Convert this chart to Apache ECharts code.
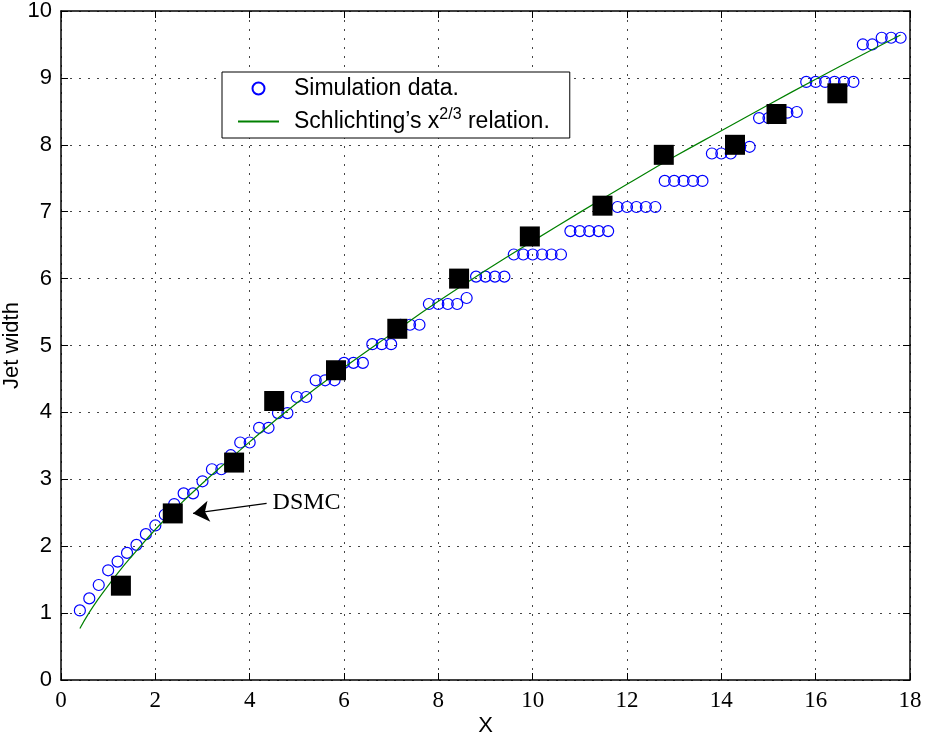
<!DOCTYPE html>
<html>
<head>
<meta charset="utf-8">
<script src="https://cdn.jsdelivr.net/npm/echarts@6/dist/echarts.min.js"></script>
<style>
  html, body { margin: 0; padding: 0; background: #fff; }
  #chart { width: 936px; height: 741px; }
</style>
</head>
<body>
<div id="chart"></div>
<script>
// Axis ticks
const xTicks = [0, 2, 4, 6, 8, 10, 12, 14, 16, 18];
const yTicks = [0, 1, 2, 3, 4, 5, 6, 7, 8, 9, 10];

// Simulation data (jet width vs. X)
const simX = [0.4, 0.6, 0.8, 1.0, 1.2, 1.4, 1.6, 1.8, 2.0, 2.2, 2.4, 2.6, 2.8, 3.0, 3.2, 3.4, 3.6, 3.8, 4.0, 4.2,
              4.4, 4.6, 4.8, 5.0, 5.2, 5.4, 5.6, 5.8, 6.0, 6.2, 6.4, 6.6, 6.8, 7.0, 7.2, 7.4, 7.6, 7.8, 8.0, 8.2,
              8.4, 8.6, 8.8, 9.0, 9.2, 9.4, 9.6, 9.8, 10.0, 10.2, 10.4, 10.6, 10.8, 11.0, 11.2, 11.4, 11.6, 11.8, 12.0, 12.2,
              12.4, 12.6, 12.8, 13.0, 13.2, 13.4, 13.6, 13.8, 14.0, 14.2, 14.4, 14.6, 14.8, 15.0, 15.2, 15.4, 15.6, 15.8, 16.0, 16.2,
              16.4, 16.6, 16.8, 17.0, 17.2, 17.4, 17.6, 17.8];
const simY = [1.04, 1.22, 1.42, 1.64, 1.77, 1.90, 2.02, 2.18, 2.31, 2.47, 2.63, 2.79, 2.79, 2.97, 3.15, 3.15, 3.36, 3.55, 3.55, 3.77,
              3.77, 3.99, 3.99, 4.23, 4.23, 4.48, 4.48, 4.48, 4.74, 4.74, 4.74, 5.02, 5.02, 5.02, 5.31, 5.31, 5.31, 5.62, 5.62, 5.62,
              5.62, 5.71, 6.03, 6.03, 6.03, 6.03, 6.36, 6.36, 6.36, 6.36, 6.36, 6.36, 6.71, 6.71, 6.71, 6.71, 6.71, 7.07, 7.07, 7.07,
              7.07, 7.07, 7.46, 7.46, 7.46, 7.46, 7.46, 7.87, 7.87, 7.87, 7.97, 7.97, 8.40, 8.40, 8.48, 8.48, 8.49, 8.94, 8.94, 8.94,
              8.94, 8.94, 8.94, 9.50, 9.50, 9.60, 9.60, 9.60];

// DSMC results
const dsmcX = [1.27, 2.37, 3.67, 4.52, 5.83, 7.13, 8.44, 9.94, 11.48, 12.78, 14.29, 15.17, 16.46];
const dsmcY = [1.41, 2.49, 3.25, 4.17, 4.63, 5.25, 6.00, 6.63, 7.09, 7.85, 8.00, 8.46, 8.77];

// Schlichting's x^(2/3) relation, sampled along the curve
const fitX = [0.4, 0.6, 0.8, 1.0, 1.25, 1.5, 2, 2.5, 3, 4, 5, 6, 7, 8, 9, 10, 11, 12, 13, 14, 15, 16, 17, 17.8];
const fitY = [0.77, 1.01, 1.22, 1.41, 1.64, 1.85, 2.25, 2.61, 2.94, 3.56, 4.14, 4.67, 5.17, 5.66, 6.12, 6.56, 6.99, 7.41, 7.82, 8.21, 8.60, 8.98, 9.35, 9.64];

// "DSMC" pointer arrow (tail, head) in data units
const arrowTail = [4.36, 2.64];
const arrowHead = [2.80, 2.49];

const simName = 'Simulation data.';
const fitName = 'Schlichting’s x2/3 relation.';

const zip = (xs, ys) => xs.map((x, i) => [x, ys[i]]);

const SANS = 'Liberation Sans, Helvetica, Arial, sans-serif';
const SERIF = 'Liberation Serif, Times New Roman, serif';

const dotted = { type: [2, 7], color: '#444', width: 1 };
const frameLine = { show: true, onZero: false, lineStyle: { color: '#000', width: 1.5 } };
const inTick = { show: true, inside: true, length: 7, lineStyle: { color: '#000', width: 1 } };

const chart = echarts.init(document.getElementById('chart'), null, { renderer: 'canvas' });

chart.setOption({
  animation: false,
  backgroundColor: '#fff',
  grid: { left: 61, right: 26, top: 11, bottom: 61, containLabel: false, outerBoundsMode: 'none' },
  legend: {
    left: 222,
    top: 72,
    orient: 'vertical',
    data: [
      { name: simName },
      { name: fitName, itemStyle: { opacity: 0 } }
    ],
    backgroundColor: '#fff',
    borderColor: '#000',
    borderWidth: 1,
    borderRadius: 0,
    padding: [5, 20, 5, 15],
    itemWidth: 41,
    itemHeight: 12,
    itemGap: 7,
    formatter: name => name === fitName ? 'Schlichting’s x{sup|2/3} relation.' : name,
    textStyle: {
      fontFamily: SANS,
      fontSize: 23,
      color: '#000',
      padding: [0, 0, 0, 10],
      rich: {
        sup: { fontFamily: SANS, fontSize: 16, color: '#000', padding: [0, 0, 13, 0] }
      }
    }
  },
  xAxis: [
    {
      type: 'value',
      min: xTicks[0],
      max: xTicks[xTicks.length - 1],
      interval: xTicks[1] - xTicks[0],
      position: 'bottom',
      name: 'X',
      nameLocation: 'middle',
      nameGap: 35,
      nameMoveOverlap: false,
      nameTextStyle: { fontFamily: SANS, fontSize: 22, color: '#000' },
      axisLine: frameLine,
      axisTick: inTick,
      axisLabel: { fontFamily: SERIF, fontSize: 23, color: '#000', margin: 9 },
      splitLine: { show: true, lineStyle: dotted }
    },
    {
      type: 'value',
      min: xTicks[0],
      max: xTicks[xTicks.length - 1],
      interval: xTicks[1] - xTicks[0],
      position: 'top',
      axisLine: frameLine,
      axisTick: inTick,
      axisLabel: { show: false },
      splitLine: { show: false }
    }
  ],
  yAxis: [
    {
      type: 'value',
      min: yTicks[0],
      max: yTicks[yTicks.length - 1],
      interval: yTicks[1] - yTicks[0],
      position: 'left',
      name: 'Jet width',
      nameLocation: 'middle',
      nameGap: 38,
      nameMoveOverlap: false,
      nameTextStyle: { fontFamily: SANS, fontSize: 22, color: '#000' },
      axisLine: frameLine,
      axisTick: inTick,
      axisLabel: { fontFamily: SANS, fontSize: 22, color: '#000', margin: 9 },
      splitLine: { show: true, lineStyle: dotted }
    },
    {
      type: 'value',
      min: yTicks[0],
      max: yTicks[yTicks.length - 1],
      interval: yTicks[1] - yTicks[0],
      position: 'right',
      axisLine: frameLine,
      axisTick: inTick,
      axisLabel: { show: false },
      splitLine: { show: false }
    }
  ],
  series: [
    {
      name: simName,
      type: 'scatter',
      data: zip(simX, simY),
      symbol: 'circle',
      symbolSize: 11,
      itemStyle: { color: 'rgba(0,0,0,0)', borderColor: '#0000ff', borderWidth: 1.2, opacity: 1 },
      z: 2
    },
    {
      name: fitName,
      type: 'line',
      data: zip(fitX, fitY),
      smooth: true,
      symbol: 'none',
      lineStyle: { color: '#008000', width: 1.2 },
      itemStyle: { color: '#008000' },
      z: 3
    },
    {
      name: 'DSMC',
      type: 'scatter',
      data: zip(dsmcX, dsmcY),
      symbol: 'rect',
      symbolSize: 20,
      itemStyle: { color: '#000', opacity: 1 },
      z: 4,
      markLine: {
        silent: true,
        symbol: ['none', 'arrow'],
        symbolSize: 16,
        lineStyle: { color: '#000', width: 1.2, type: 'solid' },
        itemStyle: { color: '#000' },
        label: {
          show: true,
          position: 'start',
          distance: 6,
          formatter: 'DSMC',
          fontFamily: SERIF,
          fontSize: 24,
          color: '#000'
        },
        data: [[{ coord: arrowTail }, { coord: arrowHead }]]
      }
    }
  ]
});
</script>
</body>
</html>
